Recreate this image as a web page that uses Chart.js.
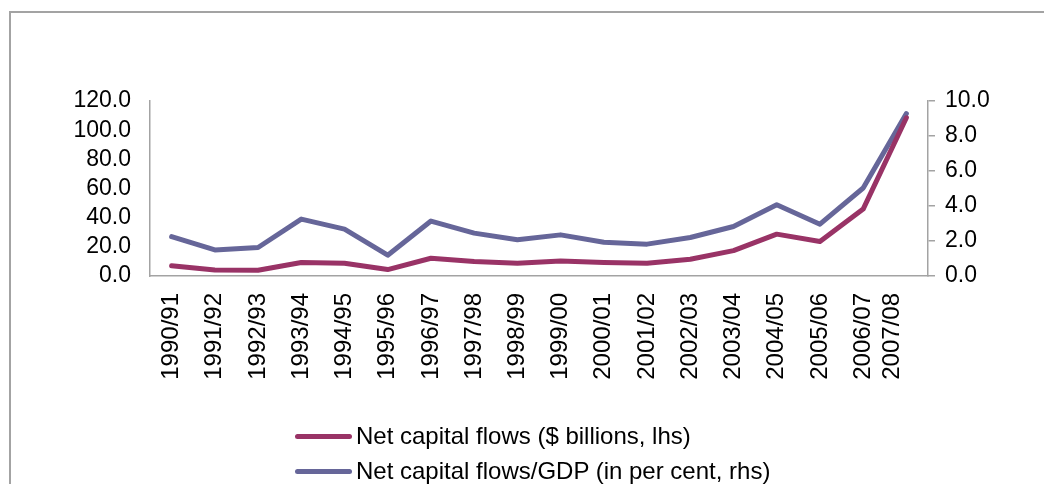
<!DOCTYPE html>
<html>
<head>
<meta charset="utf-8">
<title>Net capital flows</title>
<script src="https://cdn.jsdelivr.net/npm/chart.js@4.4.1/dist/chart.umd.min.js"></script>
<style>
  html, body { margin: 0; padding: 0; background: #fff; overflow: hidden; }
  #frame {
    position: absolute; left: 9px; top: 11px; width: 1100px; height: 500px;
    border-top: 2px solid #a3a3a3; border-left: 2px solid #a3a3a3;
  }
  #wrap { position: absolute; left: 0; top: 0; width: 1044px; height: 484px; }
  #legend { position: absolute; left: 0; top: 0; width: 1044px; height: 484px; pointer-events: none; }
  .item { position: absolute; left: 295px; height: 30px; display: flex; align-items: center;
          font-family: "Liberation Sans", Arial, sans-serif; font-size: 24px; color: #000; white-space: nowrap; }
  .swatch { width: 57px; height: 5px; border-radius: 3px; margin-right: 4px; }
</style>
</head>
<body>
<div id="frame"></div>
<div id="wrap"><canvas id="chart" width="1044" height="484"></canvas></div>
<div id="legend"></div>
<script>
// Fiscal years
const periods = ["1990/91", "1991/92", "1992/93", "1993/94", "1994/95", "1995/96",
                 "1996/97", "1997/98", "1998/99", "1999/00", "2000/01", "2001/02",
                 "2002/03", "2003/04", "2004/05", "2005/06", "2006/07", "2007/08"];

// Net capital flows, $ billions (left axis)
const flowsBillions = [7.1, 4.1, 3.9, 9.2, 8.7, 4.4, 12.2, 9.9, 8.7, 10.3,
                       9.2, 8.7, 11.5, 17.4, 28.7, 23.6, 45.9, 108.5];

// Net capital flows as per cent of GDP (right axis)
const flowsPctGdp = [2.25, 1.49, 1.63, 3.25, 2.68, 1.19, 3.14, 2.45, 2.07, 2.35,
                     1.93, 1.82, 2.2, 2.83, 4.07, 2.96, 5.03, 9.28];

const leftTicks = [0, 20, 40, 60, 80, 100, 120];
const rightTicks = [0, 2, 4, 6, 8, 10];

const seriesNames = ["Net capital flows ($ billions, lhs)",
                     "Net capital flows/GDP (in per cent, rhs)"];
const seriesColors = ["#993366", "#666699"];

const FONT = '"Liberation Sans", Arial, sans-serif';
const AXIS_GREY = "#a3a3a3";

// Rotated period labels under the x axis; the final one is pulled in so it clears the right axis
const periodLabels = {
  id: "periodLabels",
  afterDraw(chart) {
    const xs = chart.scales.x;
    const ctx = chart.ctx;
    ctx.save();
    ctx.font = "24px " + FONT;
    ctx.fillStyle = "#000";
    ctx.textAlign = "right";
    ctx.textBaseline = "middle";
    periods.forEach((p, i) => {
      let px = xs.getPixelForValue(i);
      if (i === periods.length - 1) px -= 14;
      ctx.save();
      ctx.translate(px, xs.top + 17);
      ctx.rotate(-Math.PI / 2);
      ctx.fillText(p, 0, 0);
      ctx.restore();
    });
    ctx.restore();
  }
};

const chart = new Chart(document.getElementById("chart"), {
  type: "line",
  data: {
    labels: periods,
    datasets: [
      { label: seriesNames[0], data: flowsBillions, yAxisID: "yL",
        borderColor: seriesColors[0], backgroundColor: seriesColors[0] },
      { label: seriesNames[1], data: flowsPctGdp, yAxisID: "yR",
        borderColor: seriesColors[1], backgroundColor: seriesColors[1] }
    ]
  },
  options: {
    responsive: false,
    animation: false,
    devicePixelRatio: 1,
    layout: { padding: { top: 101, left: 0, right: 0, bottom: 0 } },
    elements: {
      point: { radius: 0, hoverRadius: 0 },
      line: { borderWidth: 5, tension: 0, borderJoinStyle: "round", borderCapStyle: "round" }
    },
    plugins: { legend: { display: false }, tooltip: { enabled: false } },
    scales: {
      x: {
        offset: true,
        grid: { display: true, drawOnChartArea: false, drawTicks: false },
        border: { display: true, color: AXIS_GREY, width: 1.5 },
        ticks: { display: false },
        afterFit(s) { s.height = 208; }
      },
      yL: {
        position: "left",
        min: 0, max: 120,
        afterBuildTicks(s) { s.ticks = leftTicks.map(v => ({ value: v })); },
        grid: { drawOnChartArea: false, drawTicks: false },
        border: { display: true, color: AXIS_GREY, width: 1.5 },
        ticks: { color: "#000", font: { family: FONT, size: 23 }, padding: 19, autoSkip: false,
                 callback: v => Number(v).toFixed(1) },
        afterFit(s) { s.width = 150; }
      },
      yR: {
        position: "right",
        min: 0, max: 10,
        afterBuildTicks(s) { s.ticks = rightTicks.map(v => ({ value: v })); },
        grid: { drawOnChartArea: false, drawTicks: true, tickLength: 7, color: AXIS_GREY, lineWidth: 1.5 },
        border: { display: true, color: AXIS_GREY, width: 1.5 },
        ticks: { color: "#000", font: { family: FONT, size: 23 }, padding: 10, autoSkip: false,
                 callback: v => Number(v).toFixed(1) },
        afterFit(s) { s.width = 1044 - 928; }
      }
    }
  },
  plugins: [periodLabels]
});

// Legend stacked under the plot, built from the datasets
const legendBox = document.getElementById("legend");
const rowCentres = [436, 471];
chart.data.datasets.forEach((ds, i) => {
  const item = document.createElement("div");
  item.className = "item";
  item.style.top = (rowCentres[i] - 15) + "px";
  const sw = document.createElement("span");
  sw.className = "swatch";
  sw.style.background = ds.borderColor;
  const tx = document.createElement("span");
  tx.textContent = ds.label;
  item.appendChild(sw);
  item.appendChild(tx);
  legendBox.appendChild(item);
});
</script>
</body>
</html>
